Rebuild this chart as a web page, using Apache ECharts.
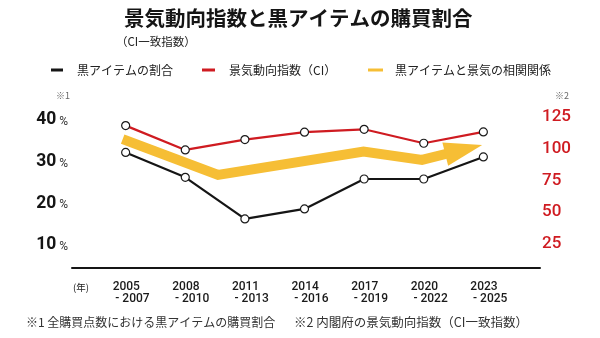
<!DOCTYPE html>
<html>
<head>
<meta charset="utf-8">
<script src="https://cdn.jsdelivr.net/npm/echarts@6/dist/echarts.min.js"></script>
<style>html,body{margin:0;padding:0;background:#fff;}#c{width:600px;height:338px;}</style>
</head>
<body>
<div id="c"></div>
<script>
// ---- data ----
const categories = ['2005\n- 2007','2008\n- 2010','2011\n- 2013','2014\n- 2016','2017\n- 2019','2020\n- 2022','2023\n- 2025'];
const blackShare = [32.2, 26.2, 16.2, 18.6, 25.8, 25.8, 31.1];   // %
const ciIndex = [118.2, 99.0, 107.2, 113.0, 115.3, 104.3, 113.2];  // CI
const trendX = [-0.05, 1.55, 3.99, 4.97, 5.67];                    // category index position
const trendY = [35.4, 26.8, 32.4, 30.4, 32.9];                     // on % axis
const leftTicks = [10, 20, 30, 40];
const rightTicks = [25, 50, 75, 100, 125];
const names = ['黒アイテムの割合', '景気動向指数（CI）', '黒アイテムと景気の相関関係'];

const JP = '"Noto Sans CJK JP", "Noto Sans", sans-serif';
const NUM = 'Roboto, "Noto Sans", sans-serif';
const YEL = '#F6BE35';
const RED = '#CF1B21';

const chart = echarts.init(document.getElementById('c'), null, {renderer: 'canvas'});

const trendData = trendX.map((x, i) => {
  if (i === trendX.length - 1) {
    return {value: [x, trendY[i]], symbol: 'triangle', symbolSize: [24, 38], symbolRotate: -76,
            itemStyle: {color: YEL}};
  }
  return [x, trendY[i]];
});

function legendOf(idx, left, color, w, pad) {
  return {
    show: true, left: left, top: 63, padding: 0, orient: 'horizontal',
    itemWidth: w, itemHeight: 3, selectedMode: false,
    data: [{name: names[idx], icon: 'rect', itemStyle: {color: color, borderWidth: 0}}],
    textStyle: {fontFamily: JP, fontSize: 12, color: '#222', padding: [0, 0, 0, pad], lineHeight: 14}
  };
}

const option = {
  backgroundColor: '#fff',
  animation: false,
  title: [
    {text: '景気動向指数と黒アイテムの購買割合', left: 124, top: 8, padding: 0,
     textStyle: {fontFamily: JP, fontSize: 20.5, fontWeight: 'bold', color: '#151515'}},
    {text: '（CI一致指数）', left: 116, top: 36, padding: 0,
     textStyle: {fontFamily: JP, fontSize: 11.5, fontWeight: 'normal', color: '#222'}}
  ],
  legend: [
    legendOf(0, 51, '#151515', 12, 9),
    legendOf(1, 202, RED, 13, 9),
    legendOf(2, 368, YEL, 15, 7)
  ],
  grid: {left: 72, right: 60, top: 100, bottom: 70},
  xAxis: {
    type: 'value', min: -0.9, max: 6.95,
    axisLine: {show: true, onZero: false, lineStyle: {color: '#151515', width: 2}},
    axisTick: {show: false},
    splitLine: {show: false},
    axisLabel: {
      customValues: categories.map((c, i) => i),
      margin: 13,
      padding: [0, 0, 0, 11],
      formatter: function (v) {
        const c = categories[Math.round(v)];
        if (!c) return '';
        const p = c.split('\n');
        return '{a|' + p[0] + '}\n{b|' + p[1] + '}';
      },
      rich: {
        a: {fontFamily: NUM, fontSize: 12, fontWeight: 500, color: '#1a1a1a', width: 37, align: 'left', lineHeight: 12},
        b: {fontFamily: NUM, fontSize: 12, fontWeight: 500, color: '#1a1a1a', width: 37, align: 'right', lineHeight: 12}
      }
    }
  },
  yAxis: [
    {
      type: 'value', min: 4.4, max: 44.8, position: 'left',
      axisLine: {show: false}, axisTick: {show: false}, splitLine: {show: false},
      axisLabel: {
        customValues: leftTicks, margin: 4,
        formatter: v => '{n|' + v + '}{p|%}',
        rich: {
          n: {fontFamily: NUM, fontSize: 17.5, fontWeight: 'bold', color: '#151515'},
          p: {fontFamily: NUM, fontSize: 12, color: '#333', padding: [4, 0, 0, 3]}
        }
      }
    },
    {
      type: 'value', min: 5.9, max: 138.4, position: 'right',
      axisLine: {show: false}, axisTick: {show: false}, splitLine: {show: false},
      axisLabel: {
        customValues: rightTicks, margin: 2,
        fontFamily: NUM, fontSize: 17, fontWeight: 500, color: RED
      }
    }
  ],
  series: [
    {
      name: names[2], type: 'line', z: 1, silent: true,
      data: trendData, symbol: 'none',
      lineStyle: {color: YEL, width: 10, join: 'miter', cap: 'butt'},
      itemStyle: {color: YEL}
    },
    {
      name: names[0], type: 'line', z: 3, silent: true, yAxisIndex: 0,
      data: blackShare.map((v, i) => [i, v]),
      symbol: 'circle', symbolSize: 8,
      lineStyle: {color: '#151515', width: 2.2},
      itemStyle: {color: '#fff', borderColor: '#1a1a1a', borderWidth: 1.2}
    },
    {
      name: names[1], type: 'line', z: 3, silent: true, yAxisIndex: 1,
      data: ciIndex.map((v, i) => [i, v]),
      symbol: 'circle', symbolSize: 8,
      lineStyle: {color: RED, width: 2.2},
      itemStyle: {color: '#fff', borderColor: '#1a1a1a', borderWidth: 1.2}
    }
  ],
  graphic: [
    {type: 'text', left: 56, top: 91, style: {text: '※1', fontFamily: JP, fontSize: 9, fill: '#666'}},
    {type: 'text', left: 555, top: 91, style: {text: '※2', fontFamily: JP, fontSize: 9, fill: '#666'}},
    {type: 'text', left: 73, top: 283, style: {text: '(年)', fontFamily: JP, fontSize: 9.5, fill: '#222'}},
    {type: 'text', left: 26, top: 316, style: {text: '※1 全購買点数における黒アイテムの購買割合', fontFamily: JP, fontSize: 12, fill: '#333'}},
    {type: 'text', left: 294, top: 316, style: {text: '※2 内閣府の景気動向指数（CI一致指数）', fontFamily: JP, fontSize: 12.5, fill: '#333'}}
  ]
};
chart.setOption(option);
</script>
</body>
</html>
